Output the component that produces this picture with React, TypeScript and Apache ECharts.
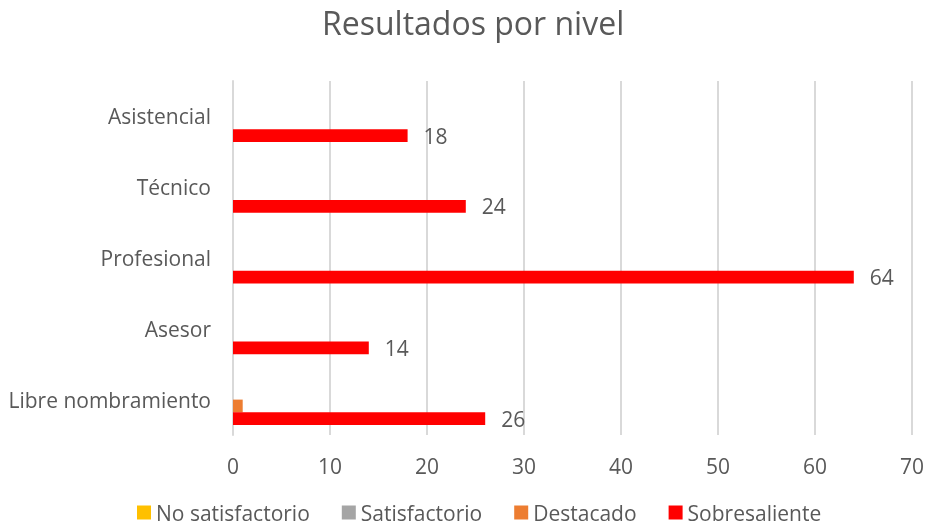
import React, { useEffect, useRef } from "react";
import * as echarts from "echarts";

const categories = ["Libre nombramiento", "Asesor", "Profesional", "Técnico", "Asistencial"];
const noSatisfactorio = [0, 0, 0, 0, 0];
const satisfactorio = [0, 0, 0, 0, 0];
const destacado = [1, 0, 0, 0, 0];
const sobresaliente = [26, 14, 64, 24, 18];
const seriesNames = ["No satisfactorio", "Satisfactorio", "Destacado", "Sobresaliente"];
const seriesColors = ["#FFC000", "#A5A5A5", "#ED7D31", "#FF0000"];

const FONT = "'Open Sans', sans-serif";
const TXT = "#595959";

export default function App() {
  const ref = useRef<HTMLDivElement>(null);
  useEffect(() => {
    if (!ref.current) return;
    const chart = echarts.init(ref.current, undefined, { renderer: "svg" });
    const datas = [noSatisfactorio, satisfactorio, destacado, sobresaliente];
    chart.setOption({
      animation: false,
      title: {
        text: "Resultados por nivel",
        left: 322,
        top: 6,
        padding: 0,
        textStyle: { fontFamily: FONT, fontSize: 32, fontWeight: "normal", color: TXT },
      },
      legend: {
        top: 502,
        left: 137,
        padding: 0,
        data: seriesNames,
        icon: "rect",
        itemWidth: 14,
        itemHeight: 14,
        itemGap: 32,
        textStyle: { fontFamily: FONT, fontSize: 21, lineHeight: 21, color: TXT },
      },
      grid: { left: 233, right: 18, top: 81, bottom: 94, containLabel: false },
      xAxis: {
        type: "value",
        min: 0,
        max: 70,
        interval: 10,
        axisLine: { show: false },
        axisTick: { show: false },
        axisLabel: { fontFamily: FONT, fontSize: 21, color: TXT, margin: 20 },
        splitLine: { show: true, lineStyle: { color: "#D9D9D9", width: 2 } },
      },
      yAxis: {
        type: "category",
        data: categories,
        axisLine: { show: true, lineStyle: { color: "#D9D9D9", width: 2 } },
        axisTick: { show: false },
        axisLabel: { fontFamily: FONT, fontSize: 21, color: TXT, margin: 22 },
      },
      series: datas.map((d, i) => ({
        name: seriesNames[i],
        type: "bar",
        data: d,
        itemStyle: { color: seriesColors[i] },
        barGap: "0%",
        barCategoryGap: "28%",
        label: {
          show: i === 3,
          position: "right",
          distance: 16,
          fontFamily: FONT,
          fontSize: 21,
          color: TXT,
        },
      })),
    });
    return () => chart.dispose();
  }, []);
  return <div ref={ref} style={{ position: "fixed", left: 0, top: 0, width: 930, height: 529 }} />;
}
